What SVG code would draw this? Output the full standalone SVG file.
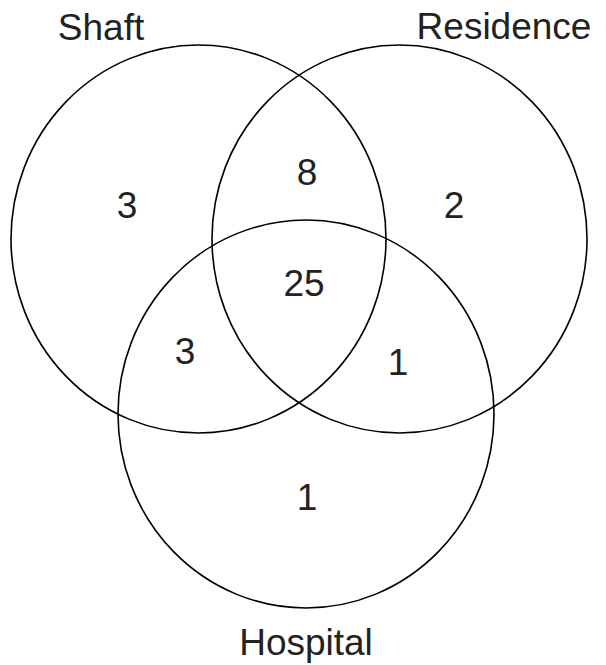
<svg xmlns="http://www.w3.org/2000/svg" width="606" height="665" viewBox="0 0 606 665">
<style>
.c{fill:none;stroke:#000;stroke-width:1.6}
.t{font-family:"Liberation Sans",Arial,sans-serif;font-size:37px;fill:#222;text-anchor:middle}
</style>
<rect width="606" height="665" fill="#fff"/>
<g id="shaft"><ellipse class="c" cx="198.5" cy="239" rx="187.5" ry="194"/><text class="t" x="101" y="40">Shaft</text></g>
<g id="residence"><ellipse class="c" cx="399.5" cy="239" rx="187.5" ry="194"/><text class="t" x="504" y="39">Residence</text></g>
<g id="hospital"><ellipse class="c" cx="306" cy="414" rx="188" ry="194"/><text class="t" x="306" y="655">Hospital</text></g>
<g id="counts">
<text class="t" x="127" y="218">3</text>
<text class="t" x="307" y="185">8</text>
<text class="t" x="454" y="218">2</text>
<text class="t" x="304" y="296">25</text>
<text class="t" x="185" y="364">3</text>
<text class="t" x="398" y="375">1</text>
<text class="t" x="307" y="510">1</text>
</g>
</svg>
